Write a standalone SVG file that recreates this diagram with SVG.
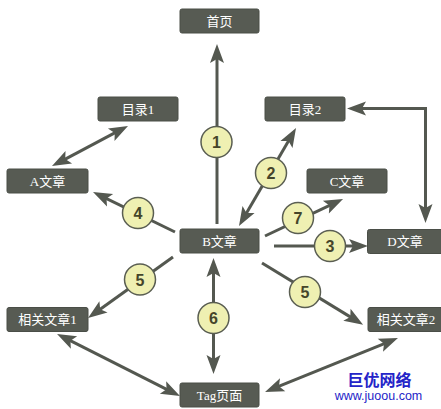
<svg xmlns="http://www.w3.org/2000/svg" width="441" height="409" viewBox="0 0 441 409">
<style>
.box{fill:#575b53;stroke:#4a4e47;stroke-width:1}
.lbl{fill:#ffffff;font-family:"Liberation Serif","Noto Sans CJK SC",serif;font-size:13px;text-anchor:middle}
.ln{stroke:#545850;stroke-width:3;fill:none}
.num circle{fill:#eff0b2;stroke:#5a5e52;stroke-width:1.5}
.num text{fill:#45452a;font-family:"Liberation Sans",Arial,sans-serif;font-size:16px;font-weight:bold;text-anchor:middle}
</style>
<defs>
<marker id="ah" markerUnits="userSpaceOnUse" viewBox="-2 -8 22 16" markerWidth="22" markerHeight="16" refX="13" refY="0" orient="auto-start-reverse">
<path d="M0,-7 L19,0 L0,7 L4,0 Z" fill="#545850"/>
</marker>
</defs>
<rect width="441" height="409" fill="#ffffff"/>
<g id="connectors">
<line class="ln" x1="217" y1="224" x2="217" y2="50" marker-end="url(#ah)"/>
<line class="ln" x1="242" y1="220.8" x2="293" y2="133.2" marker-start="url(#ah)" marker-end="url(#ah)"/>
<line class="ln" x1="57.3" y1="163.3" x2="122.7" y2="128.7" marker-start="url(#ah)" marker-end="url(#ah)"/>
<line class="ln" x1="175" y1="232" x2="98.4" y2="194.6" marker-end="url(#ah)"/>
<line class="ln" x1="265" y1="236" x2="337.6" y2="201.6" marker-end="url(#ah)"/>
<line class="ln" x1="274" y1="246" x2="362" y2="246" marker-end="url(#ah)"/>
<path class="ln" d="M353,108.5 H425.5 V217" marker-start="url(#ah)" marker-end="url(#ah)"/>
<line class="ln" x1="173" y1="257" x2="92.9" y2="314.5" marker-end="url(#ah)"/>
<line class="ln" x1="213.5" y1="264" x2="213.5" y2="368" marker-start="url(#ah)" marker-end="url(#ah)"/>
<line class="ln" x1="262" y1="263" x2="358" y2="321.6" marker-end="url(#ah)"/>
<line class="ln" x1="62.4" y1="336.7" x2="174.6" y2="393.3" marker-start="url(#ah)" marker-end="url(#ah)"/>
<line class="ln" x1="270.6" y1="389.7" x2="392.4" y2="340.3" marker-start="url(#ah)" marker-end="url(#ah)"/>
</g>
<g id="n-home"><rect class="box" x="180" y="9" width="79" height="24" rx="2"/><text class="lbl" x="219.5" y="25.5">首页</text></g>
<g id="n-dir1"><rect class="box" x="98" y="97" width="80" height="24" rx="2"/><text class="lbl" x="138" y="113.5">目录1</text></g>
<g id="n-dir2"><rect class="box" x="265" y="97" width="80" height="24" rx="2"/><text class="lbl" x="305" y="113.5">目录2</text></g>
<g id="n-a"><rect class="box" x="7" y="169" width="81" height="24" rx="2"/><text class="lbl" x="47.5" y="185.5">A文章</text></g>
<g id="n-c"><rect class="box" x="307" y="169" width="80" height="24" rx="2"/><text class="lbl" x="347" y="185.5">C文章</text></g>
<g id="n-b"><rect class="box" x="180" y="229" width="79" height="24" rx="2"/><text class="lbl" x="219.5" y="245.5">B文章</text></g>
<g id="n-d"><rect class="box" x="367.5" y="229.5" width="78" height="24" rx="2"/><text class="lbl" x="405" y="246">D文章</text></g>
<g id="n-rel1"><rect class="box" x="7" y="307.5" width="81" height="24" rx="2"/><text class="lbl" x="47.5" y="324">相关文章1</text></g>
<g id="n-rel2"><rect class="box" x="368" y="307.5" width="78" height="24" rx="2"/><text class="lbl" x="406" y="324">相关文章2</text></g>
<g id="n-tag"><rect class="box" x="180" y="383" width="79" height="24" rx="2"/><text class="lbl" x="219.5" y="399.5">Tag页面</text></g>
<g id="badges" class="num">
<g id="b1"><circle cx="216.5" cy="142" r="15.5"/><text x="216.5" y="148">1</text></g>
<g id="b2"><circle cx="271" cy="173" r="15.5"/><text x="271" y="179">2</text></g>
<g id="b4"><circle cx="138" cy="213" r="15.5"/><text x="138" y="219">4</text></g>
<g id="b7"><circle cx="298" cy="218" r="15.5"/><text x="298" y="224">7</text></g>
<g id="b3"><circle cx="330" cy="246" r="15.5"/><text x="330" y="252">3</text></g>
<g id="b5l"><circle cx="140" cy="279.5" r="15.5"/><text x="140" y="285.5">5</text></g>
<g id="b6"><circle cx="213.5" cy="318" r="15.5"/><text x="213.5" y="324">6</text></g>
<g id="b5r"><circle cx="305" cy="292" r="15.5"/><text x="305" y="298">5</text></g>
</g>
<g id="watermark" fill="#2424c8" font-family="'Liberation Sans','Noto Sans CJK SC',sans-serif" text-anchor="middle">
<text x="379.5" y="386" font-size="16" font-weight="bold">巨优网络</text>
<text x="378.5" y="400" font-size="12.5">www.juoou.com</text>
</g>
</svg>
